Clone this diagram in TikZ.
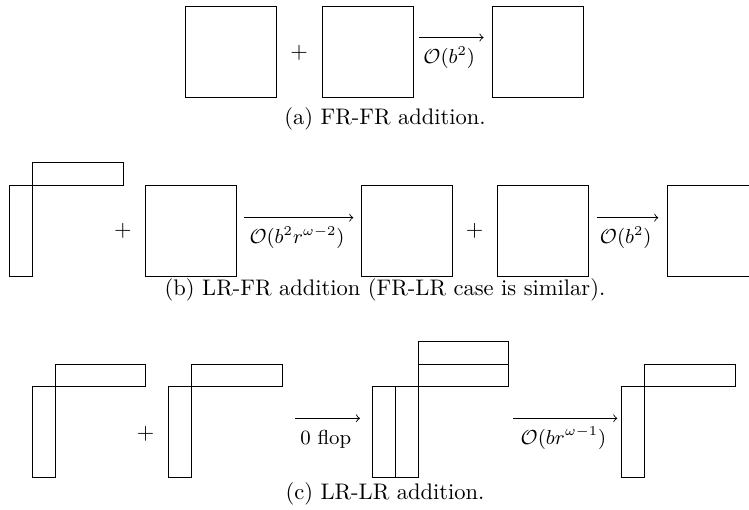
\documentclass[tikz,border=0pt]{standalone}
\usepackage{amsmath}
\begin{document}
\begin{tikzpicture}[x=.4443pt,y=-.4443pt,
 lbl/.style={midway,anchor=base,yshift=-11.6pt,xshift=-.8pt,inner sep=0pt,font=\small},
 captxt/.style={anchor=base,inner sep=0pt},
 ]
 \useasboundingbox (0,0) rectangle (749,509);
 \clip (0,0) rectangle (749,509);
 % <<< (a)
 \draw
 (185,6) rectangle +(91,91)
 (322,6) rectangle +(91,91)
 (492,6) rectangle +(91,91);
 \path
 (299,53) node (pa) {$+$}
 (418.5,37.5) coordinate (a1)
 ++(0:65) coordinate (a2)
 (385,124.5) node[captxt] (capa) {(a) FR-FR addition.};
 \draw[->] (a1)--(a2) node[lbl] (la) {$\mathcal{O}(b^2)$};
 % <<< (b)
 \draw
 (9,185) rectangle (32,276) (32,162) rectangle (123,185)
 (145.7,185) rectangle +(91,91)
 (361.7,185) rectangle +(91,91)
 (497.3,185) rectangle +(91,91)
 (667.7,185) rectangle +(91,91);
 \path
 (123,231) node (pb1) {$+$}
 ++(0:351.5) node (pb2) {$+$}
 (244.3,217.7) coordinate (b1)
 ++(0:109) coordinate (b2)
 (596.7,217.7) coordinate (b3)
 ++(0:61.6) coordinate (b4)
 (385,295) node[captxt] (capb) {(b) LR-FR addition (FR-LR case is similar).};
 \draw[->] (b1)--(b2) node[lbl] (lb1) {$\mathcal{O}(b^2r^{\omega-2})$};
 \draw[->] (b3)--(b4) node[lbl] (lb2) {$\mathcal{O}(b^2)$};
 % <<< (c)
 \draw
 (32.3,386.7) rectangle (55,477.3) (55,364) rectangle (145.7,386.7)
 (168.3,386.7) rectangle (191,477.3) (191,364) rectangle (282.3,386.7)
 (372.7,386.7) rectangle (395.7,477.3) (395.7,386.7) rectangle (418.3,477.3)
 (418.3,364) rectangle (508.3,386.7) (418.3,341.7) rectangle (508.3,364)
 (621.7,386.7) rectangle (644.3,477.3) (644.3,364) rectangle (735.7,386.7);
 \path
 (145.7,434) node (pc) {$+$}
 (295,418.3) coordinate (c1)
 ++(0:65) coordinate (c2)
 (513.3,418.3) coordinate (c3)
 ++(0:104) coordinate (c4)
 (385,499.5) node[captxt] (capc) {(c) LR-LR addition.};
 \draw[->] (c1)--(c2) node[lbl] (lc1) {0 flop};
 \draw[->] (c3)--(c4) node[lbl] (lc2) {$\mathcal{O}(br^{\omega-1})$};
\end{tikzpicture}
\end{document}
